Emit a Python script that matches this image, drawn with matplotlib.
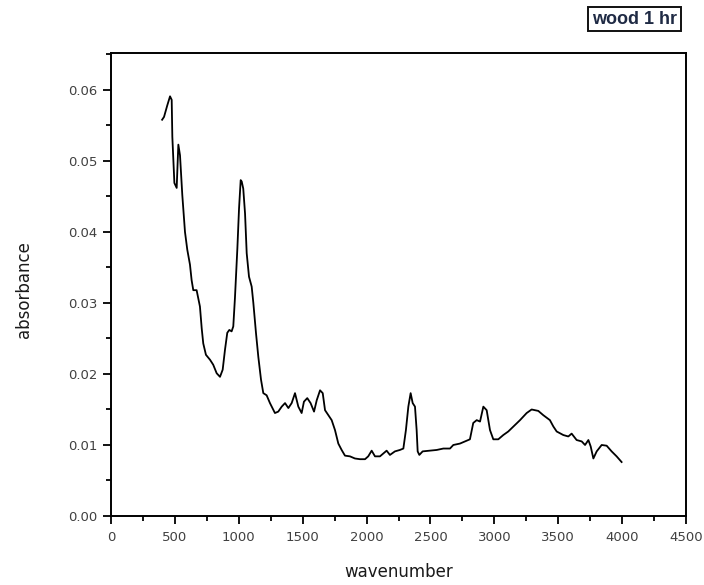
import matplotlib
matplotlib.use("Agg")
import matplotlib.pyplot as plt
from matplotlib.ticker import MultipleLocator, FormatStrFormatter

plt.rcParams['font.family'] = ['DejaVu Sans']

wavenumber = [400, 415, 440, 462, 475, 480, 496, 514, 527, 540, 558, 579, 597, 618, 631, 644,
              670, 696, 710, 722, 743, 775, 800, 827, 853, 874, 892, 910, 926, 944, 957,
              970, 989, 1002, 1015, 1023, 1035, 1049, 1062, 1080, 1101, 1114, 1135, 1153,
              1174, 1192, 1218, 1244, 1283, 1309, 1336, 1362, 1388, 1414, 1440, 1466,
              1492, 1510, 1536, 1562, 1589, 1610, 1636, 1657, 1675, 1701, 1727, 1753,
              1779, 1805, 1831, 1870, 1909, 1948, 1988, 2013, 2040, 2066, 2105, 2131,
              2157, 2183, 2222, 2261, 2288, 2308, 2327, 2345, 2361, 2379, 2392, 2400,
              2413, 2439, 2496, 2549, 2601, 2653, 2679, 2731, 2770, 2809, 2835, 2862,
              2888, 2914, 2940, 2966, 2992, 3031, 3070, 3109, 3149, 3201, 3253, 3292,
              3344, 3383, 3435, 3462, 3488, 3540, 3579, 3605, 3644, 3684, 3710, 3736,
              3754, 3775, 3801, 3840, 3879, 3918, 3957, 3996]
absorbance = [0.0558, 0.0562, 0.0578, 0.0591, 0.0586, 0.0534, 0.0469, 0.0462, 0.0523, 0.0508,
              0.0452, 0.0400, 0.0375, 0.0354, 0.0332, 0.0318, 0.0318, 0.0295, 0.0264,
              0.0243, 0.0227, 0.0220, 0.0213, 0.0201, 0.0196, 0.0206, 0.0234, 0.0258,
              0.0262, 0.0260, 0.0267, 0.0307, 0.0377, 0.0433, 0.0473, 0.0471, 0.0461,
              0.0426, 0.0370, 0.0337, 0.0323, 0.0300, 0.0257, 0.0224, 0.0192, 0.0173,
              0.0170, 0.0159, 0.0145, 0.0147, 0.0154, 0.0159, 0.0152, 0.0159, 0.0173,
              0.0154, 0.0145, 0.0161, 0.0166, 0.0159, 0.0147, 0.0163, 0.0177, 0.0173,
              0.0149, 0.0142, 0.0135, 0.0121, 0.0102, 0.0093, 0.0085, 0.0084, 0.0081,
              0.0080, 0.0080, 0.0084, 0.0092, 0.0084, 0.0084, 0.0088, 0.0092, 0.0086,
              0.0091, 0.0093, 0.0095, 0.0121, 0.0154, 0.0173, 0.0159, 0.0154, 0.0121,
              0.0091, 0.0086, 0.0091, 0.0092, 0.0093, 0.0095, 0.0095, 0.0100, 0.0102,
              0.0105, 0.0108, 0.0131, 0.0135, 0.0133, 0.0154, 0.0149, 0.0121, 0.0108, 0.0108,
              0.0114, 0.0119, 0.0126, 0.0135, 0.0145, 0.0150, 0.0148, 0.0142, 0.0135,
              0.0126, 0.0119, 0.0114, 0.0112, 0.0116, 0.0107, 0.0105, 0.0100, 0.0107,
              0.0098, 0.0081, 0.0091, 0.0100, 0.0099, 0.0091, 0.0084, 0.0076]

legend_label = 'wood 1 hr'

fig = plt.figure(figsize=(7.04, 5.85), dpi=100)
ax = fig.add_axes([111/704, 69/585, 575/704, 463/585])
ax.plot(wavenumber, absorbance, color='black', lw=1.3)

ax.set_xlim(0, 4500)
ax.set_ylim(0, 0.0652)
ax.xaxis.set_major_locator(MultipleLocator(500))
ax.xaxis.set_minor_locator(MultipleLocator(250))
ax.yaxis.set_major_locator(MultipleLocator(0.01))
ax.yaxis.set_minor_locator(MultipleLocator(0.005))
ax.yaxis.set_major_formatter(FormatStrFormatter('%.2f'))
ax.tick_params(which='both', direction='out', top=False, right=False,
               labelsize=9.5, labelcolor='#404040', width=1.3)
ax.tick_params(which='major', length=6)
ax.tick_params(which='minor', length=3.5)
ax.tick_params(axis='x', pad=5)
ax.tick_params(axis='y', pad=4)
for s in ax.spines.values():
    s.set_linewidth(1.4)

ax.set_xlabel('wavenumber', fontsize=12, color='#1a1a1a')
ax.set_ylabel('absorbance', fontsize=12, color='#1a1a1a')
ax.xaxis.set_label_coords(0.5, -0.102)
ax.yaxis.set_label_coords(-0.135, 0.49)

fig.text(634.5/704, 1 - 19/585, legend_label, ha='center', va='center', fontsize=13,
         fontweight='bold', color='#1f2a44', family=['Liberation Sans', 'DejaVu Sans'],
         bbox=dict(boxstyle='square,pad=0.22', facecolor='white', edgecolor='#111111', lw=1.4))

fig.savefig('out.png', dpi=100)
